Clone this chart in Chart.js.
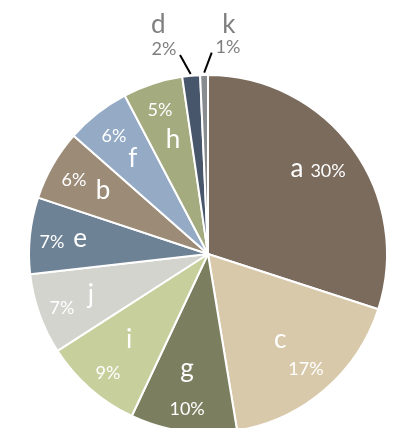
<!DOCTYPE html>
<html>
<head>
<meta charset="utf-8">
<script src="https://cdn.jsdelivr.net/npm/chart.js@4/dist/chart.umd.min.js"></script>
<style>
html,body{margin:0;padding:0;background:#fff;overflow:hidden;}
#wrap{width:403px;height:428px;position:relative;}
</style>
</head>
<body>
<div id="wrap"><canvas id="c" width="403" height="428"></canvas></div>
<script>
// ---- data ----
const categories = ['a','c','g','i','j','e','b','f','h','d','k'];
const values = [30.0, 17.4, 9.6, 8.9, 7.3, 6.9, 6.4, 5.8, 5.4, 1.6, 0.7];
const colors = ['#7b6b5d','#d9c9ab','#7b7f5f','#c7cf9d','#d2d4cd','#6e8296','#9c8b77','#94aac5','#a3ab7f','#47566a','#898c8f'];

// ---- label placement (polar: angle in degrees clockwise from top, fraction of radius) ----
const labelPlacement = {
  a: {name:[49.1,0.657], pct:[57.3,0.797]},
  c: {name:[142.5,0.662], pct:[141.0,0.870]},
  g: {name:[189.7,0.697], pct:[187.4,0.907]},
  i: {name:[220.0,0.686], pct:[218.7,0.894]},
  j: {name:[247.3,0.709], pct:[247.7,0.882]},
  e: {name:[273.1,0.716], pct:[272.2,0.872]},
  b: {name:[297.6,0.662], pct:[296.9,0.840]},
  f: {name:[319.2,0.642], pct:[320.0,0.817]},
  h: {name:[341.7,0.624], pct:[340.8,0.816]},
  d: {name:[347.3,1.266], pct:[347.5,1.139], line:[[354.5,1.010],[352.0,1.123]], outside:true},
  k: {name:[5.4,1.240], pct:[5.7,1.128], line:[[358.8,1.013],[1.05,1.125]], outside:true}
};

const FONT = 'Lato, "Open Sans", sans-serif';

const labelPlugin = {
  id: 'sliceLabels',
  afterDatasetsDraw(chart) {
    const meta = chart.getDatasetMeta(0);
    const arc0 = meta.data[0];
    const cx = arc0.x, cy = arc0.y, R = arc0.outerRadius;
    const ds = chart.data.datasets[0].data;
    const total = ds.reduce((s, v) => s + v, 0);
    const pt = (p) => {
      const a = p[0] * Math.PI / 180;
      return [cx + Math.sin(a) * R * p[1], cy - Math.cos(a) * R * p[1]];
    };
    const ctx = chart.ctx;
    ctx.save();
    ctx.textAlign = 'center';
    ctx.textBaseline = 'alphabetic';
    chart.data.labels.forEach((lab, i) => {
      const spec = labelPlacement[lab];
      if (!spec) return;
      const pctText = Math.round(ds[i] / total * 100 + 1e-9) + '%';
      ctx.fillStyle = spec.outside ? '#7f7f7f' : '#ffffff';
      let p = pt(spec.name);
      ctx.font = '26px ' + FONT;
      ctx.fillText(lab, p[0], p[1]);
      p = pt(spec.pct);
      ctx.font = '18px ' + FONT;
      ctx.fillText(pctText, p[0], p[1]);
      if (spec.line) {
        const s = pt(spec.line[0]), e = pt(spec.line[1]);
        ctx.strokeStyle = '#000';
        ctx.lineWidth = 2;
        ctx.beginPath();
        ctx.moveTo(s[0], s[1]);
        ctx.lineTo(e[0], e[1]);
        ctx.stroke();
      }
    });
    ctx.restore();
  }
};

new Chart(document.getElementById('c'), {
  type: 'pie',
  data: {
    labels: categories,
    datasets: [{
      data: values,
      backgroundColor: colors,
      borderColor: '#ffffff',
      borderWidth: 2,
      radius: 179,
      clip: false
    }]
  },
  options: {
    responsive: false,
    animation: false,
    layout: {padding: {left: 13, right: 0, top: 80, bottom: 0}},
    plugins: {legend: {display: false}, tooltip: {enabled: false}}
  },
  plugins: [labelPlugin]
});
</script>
</body>
</html>
